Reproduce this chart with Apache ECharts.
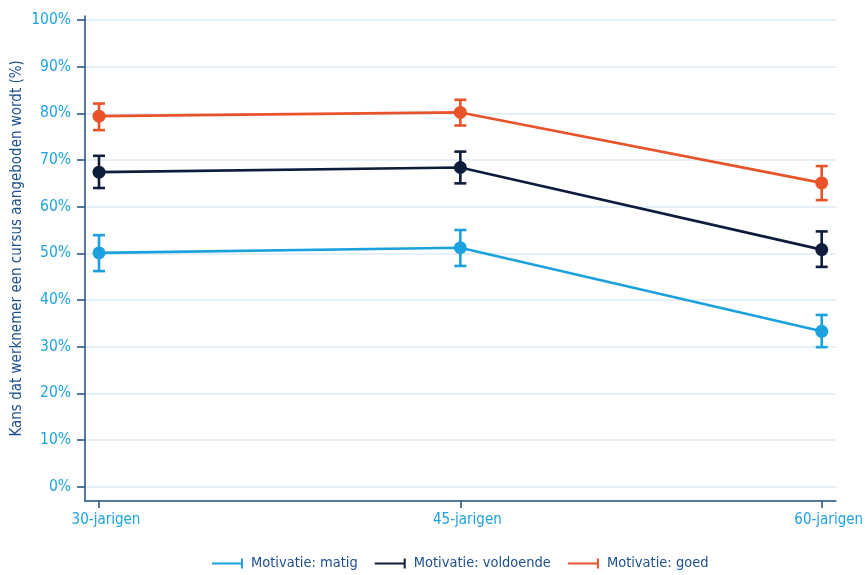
<!DOCTYPE html>
<html>
<head>
<meta charset="utf-8">
<script src="https://cdn.jsdelivr.net/npm/echarts@6/dist/echarts.min.js"></script>
<style>html,body{margin:0;padding:0;background:#fff}#c{width:865px;height:575px}</style>
</head>
<body>
<div id="c"></div>
<script>
const categories = ['30-jarigen', '45-jarigen', '60-jarigen'];
const yTicks = [0, 10, 20, 30, 40, 50, 60, 70, 80, 90, 100];

const seriesNames = ['Motivatie: matig', 'Motivatie: voldoende', 'Motivatie: goed'];
const matig = [50.1, 51.2, 33.3];
const matigLow = [46.2, 47.3, 29.9];
const matigHigh = [53.9, 55.0, 36.8];
const voldoende = [67.4, 68.4, 50.8];
const voldoendeLow = [64.0, 65.0, 47.1];
const voldoendeHigh = [70.9, 71.8, 54.7];
const goed = [79.4, 80.2, 65.1];
const goedLow = [76.4, 77.4, 61.4];
const goedHigh = [82.1, 82.9, 68.7];

const colors = ['#1ba1dd', '#0e1d3b', '#e8532a'];
const axisColor = '#1f4f7e';
const labelColor = '#1ea2e0';
const titleColor = '#1d4f8f';
const FONT = '"Liberation Sans Narrow", "DejaVu Sans Condensed", "Roboto", sans-serif';

const chart = echarts.init(document.getElementById('c'), null, {renderer: 'canvas'});

function errorSeries(name, low, high, color) {
  return {
    name: name,
    type: 'custom',
    xAxisIndex: 0, yAxisIndex: 0,
    z: 3,
    data: low.map((l, i) => [i, l, high[i]]),
    renderItem: function (params, api) {
      const x = api.value(0);
      const lo = api.coord([x, api.value(1)]);
      const hi = api.coord([x, api.value(2)]);
      const w = 6;
      const st = {stroke: color, lineWidth: 2.6};
      return {
        type: 'group',
        children: [
          {type: 'line', shape: {x1: lo[0], y1: lo[1], x2: hi[0], y2: hi[1]}, style: st},
          {type: 'line', shape: {x1: lo[0] - w, y1: lo[1], x2: lo[0] + w, y2: lo[1]}, style: st},
          {type: 'line', shape: {x1: hi[0] - w, y1: hi[1], x2: hi[0] + w, y2: hi[1]}, style: st}
        ]
      };
    }
  };
}

function lineSeries(name, data, color) {
  return {
    name: name,
    type: 'line',
    xAxisIndex: 0, yAxisIndex: 0,
    data: data,
    z: 4,
    symbol: 'circle',
    symbolSize: 13,
    itemStyle: {color: color},
    lineStyle: {color: color, width: 2.6},
    emphasis: {disabled: true}
  };
}

const legendIcon = 'path://M0,4L29,4L29,6L0,6Z M29,0L31,0L31,10L29,10Z';

const option = {
  animation: false,
  backgroundColor: '#ffffff',
  grid: [
    {left: 99, right: 43.3, top: 20, bottom: 88.3, outerBoundsMode: 'none'},   // data
    {left: 85, right: 29, top: 20, bottom: 88.3, outerBoundsMode: 'none'},     // y ticks, labels, grid lines
    {left: 85, right: 29, top: 16, bottom: 74, outerBoundsMode: 'none'},       // axis lines
    {left: 99, right: 43.3, top: 16, bottom: 74, outerBoundsMode: 'none'}      // x ticks + labels
  ],
  xAxis: [
    {gridIndex: 0, type: 'category', data: categories, boundaryGap: false, show: false},
    {gridIndex: 1, type: 'value', min: 0, max: 1, show: false},
    {
      gridIndex: 2, type: 'value', min: 0, max: 1,
      axisLine: {show: true, lineStyle: {color: axisColor, width: 1.5}},
      axisTick: {show: false}, axisLabel: {show: false}, splitLine: {show: false}
    },
    {
      gridIndex: 3, type: 'category', data: categories, boundaryGap: false,
      axisLine: {show: false},
      axisTick: {show: true, inside: false, length: 7, lineStyle: {color: axisColor, width: 1.5}},
      axisLabel: {color: labelColor, fontFamily: FONT, fontSize: 15, margin: 12, padding: [0, 0, 0, 14]},
      splitLine: {show: false}
    }
  ],
  yAxis: [
    {gridIndex: 0, type: 'value', min: 0, max: 100, show: false},
    {
      gridIndex: 1, type: 'value', min: 0, max: 100, interval: 10,
      axisLine: {show: false},
      axisTick: {show: true, inside: false, length: 8, lineStyle: {color: axisColor, width: 1.5}},
      axisLabel: {color: labelColor, fontFamily: FONT, fontSize: 15.5, margin: 14,
        formatter: v => (yTicks.indexOf(v) >= 0 ? v + '%' : '')},
      splitLine: {show: true, lineStyle: {color: '#dcebf7', width: 1.5}},
      name: 'Kans dat werknemer een cursus aangeboden wordt (%)',
      nameLocation: 'middle',
      nameGap: 60,
      nameMoveOverlap: false,
      nameTextStyle: {color: titleColor, fontFamily: FONT, fontSize: 15, padding: [0, 0, 0, 10]}
    },
    {
      gridIndex: 2, type: 'value', min: 0, max: 1,
      axisLine: {show: true, lineStyle: {color: axisColor, width: 1.5}},
      axisTick: {show: false}, axisLabel: {show: false}, splitLine: {show: false}
    },
    {gridIndex: 3, type: 'value', min: 0, max: 1, show: false}
  ],
  legend: {
    left: 207, top: 551,
    itemWidth: 31, itemHeight: 10, itemGap: 17,
    textStyle: {color: titleColor, fontFamily: FONT, fontSize: 14.5, padding: [0, 0, 0, 3]},
    data: seriesNames.map((n, i) => ({name: n, icon: legendIcon, itemStyle: {color: colors[i]}})),
    selectedMode: false
  },
  series: [
    errorSeries(seriesNames[0], matigLow, matigHigh, colors[0]),
    errorSeries(seriesNames[1], voldoendeLow, voldoendeHigh, colors[1]),
    errorSeries(seriesNames[2], goedLow, goedHigh, colors[2]),
    lineSeries(seriesNames[0], matig, colors[0]),
    lineSeries(seriesNames[1], voldoende, colors[1]),
    lineSeries(seriesNames[2], goed, colors[2])
  ]
};
chart.setOption(option);
</script>
</body>
</html>
